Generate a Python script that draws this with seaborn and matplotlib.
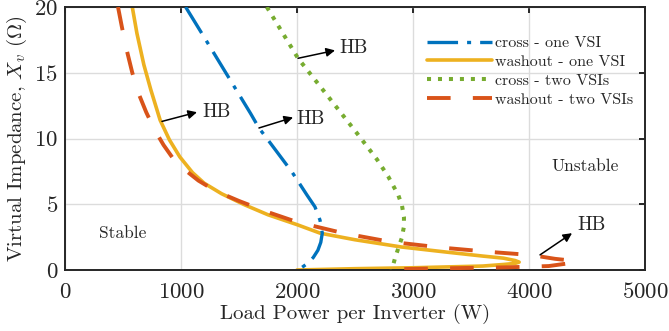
import matplotlib
matplotlib.use("Agg")
import matplotlib.pyplot as plt
import seaborn as sns
import pandas as pd

# ---------------- data ----------------
cross_one_x = [1040, 1200, 1400, 1600, 1672, 1800, 1957, 2086, 2155, 2198, 2218, 2205, 2180, 2140, 2090, 2040, 2000]
cross_one_y = [20.0, 17.7, 14.8, 11.9, 10.8, 9.3, 7.45, 5.7, 4.8, 3.8, 2.8, 2.1, 1.5, 0.95, 0.5, 0.18, 0.0]

wash_one_x = [580, 620, 680, 740, 820, 900, 990, 1100, 1200, 1350, 1550, 1750, 2000, 2200, 2500,
              2900, 3300, 3600, 3780, 3880, 3915, 3880, 3780, 3600, 3000, 2500, 2000]
wash_one_y = [20.0, 18.0, 15.6, 13.7, 11.4, 9.9, 8.6, 7.4, 6.6, 5.8, 4.95, 4.2, 3.45, 2.8, 2.3,
              1.75, 1.35, 1.06, 0.9, 0.72, 0.6, 0.5, 0.42, 0.3, 0.17, 0.1, 0.0]

cross_two_x = [1740, 2009, 2241, 2517, 2690, 2787, 2873, 2905, 2922, 2922, 2902, 2873, 2845, 2825, 2815]
cross_two_y = [20.0, 16.1, 13.5, 10.4, 8.4, 7.1, 5.7, 4.9, 4.05, 3.3, 2.4, 1.65, 0.9, 0.25, 0.0]

wash_two_x = [457, 490, 530, 580, 640, 700, 770, 850, 930, 1050, 1150, 1300, 1500, 1750, 2000, 2400,
              2800, 3250, 3700, 4017, 4224, 4330, 4400, 4336, 4170, 3800, 3350, 2900, 2810]
wash_two_y = [20.0, 18.5, 16.8, 15.0, 13.3, 12.0, 10.7, 9.5, 8.5, 7.5, 6.8, 6.0, 5.25, 4.4, 3.65, 2.8,
              2.15, 1.7, 1.35, 1.14, 0.85, 0.75, 0.65, 0.5, 0.3, 0.2, 0.14, 0.07, 0.0]

labels = ["cross - one VSI", "washout - one VSI", "cross - two VSIs", "washout - two VSIs"]
colors = ["#0072BD", "#EDB120", "#77AC30", "#D95319"]

# HB annotations: (tail x, tail y, head x, head y, text x, text y)
hb_tail_x = [836, 1672, 2009, 4095]
hb_tail_y = [11.3, 10.8, 16.1, 1.15]
hb_head_x = [1138, 1966, 2328, 4371]
hb_head_y = [12.0, 11.6, 16.7, 2.8]
hb_text_x = [1180, 1995, 2365, 4420]
hb_text_y = [12.0, 11.5, 16.85, 3.4]

x_ticks = [0, 1000, 2000, 3000, 4000, 5000]
y_ticks = [0, 5, 10, 15, 20]

# ---------------- style ----------------
sns.set_style("white")
plt.rcParams["font.family"] = ["serif"]
plt.rcParams["font.serif"] = ["cmr10", "DejaVu Serif"]
plt.rcParams["mathtext.fontset"] = "cm"
plt.rcParams["axes.formatter.use_mathtext"] = True
plt.rcParams["lines.scale_dashes"] = False

fig = plt.figure(figsize=(6.69, 3.31), dpi=100)
ax = fig.add_axes([65 / 669, 1 - 270 / 331, 580 / 669, 263 / 331])

series = [
    (cross_one_x, cross_one_y, (0, (22, 6.5, 2.9, 6.5)), 2.4, 3),
    (wash_one_x, wash_one_y, "-", 2.6, 2),
    (cross_two_x, cross_two_y, (0, (2.9, 5.0)), 2.9, 3),
    (wash_two_x, wash_two_y, (0, (17, 16)), 2.8, 4),
]
for (xs, ys, ls, lw, z), lab, col in zip(series, labels, colors):
    df = pd.DataFrame({"x": xs, "y": ys})
    sns.lineplot(data=df, x="x", y="y", sort=False, estimator=None, ax=ax,
                 color=col, linewidth=lw, label=lab, zorder=z)
    line = ax.lines[-1]
    line.set_linestyle(ls)
    line.set_dash_capstyle("butt")
    line.set_solid_capstyle("round")

for tx, ty, hx, hy, lx, ly in zip(hb_tail_x, hb_tail_y, hb_head_x, hb_head_y, hb_text_x, hb_text_y):
    ax.annotate("", xy=(hx, hy), xytext=(tx, ty),
                arrowprops=dict(arrowstyle="-|>", color="black", lw=1.1,
                                mutation_scale=13, shrinkA=0, shrinkB=0), zorder=6)
    ax.text(lx, ly, "HB", fontsize=14, va="center", ha="left", color="#262626", zorder=6)

ax.text(500, 2.8, "Stable", fontsize=12.5, ha="center", va="center", color="#262626")
ax.text(4483, 7.9, "Unstable", fontsize=12.5, ha="center", va="center", color="#262626")

ax.set_xlim(0, 5000)
ax.set_ylim(0, 20)
ax.set_xticks(x_ticks)
ax.set_yticks(y_ticks)
ax.grid(True, color="#dcdcdc", linewidth=1.0)
ax.set_axisbelow(True)
for s in ax.spines.values():
    s.set_visible(True)
    s.set_color("#262626")
    s.set_linewidth(1.4)
ax.tick_params(axis="both", which="both", direction="in", length=4.3, width=1.4,
               top=True, right=True, labelsize=16.5, colors="#262626")
ax.tick_params(axis="x", pad=9)
ax.tick_params(axis="y", pad=5)
ax.set_xlabel("Load Power per Inverter (W)", fontsize=15, color="#262626", labelpad=1)
ax.set_ylabel(r"Virtual Impedance, $X_v$ $(\Omega)$", fontsize=15, color="#262626", labelpad=4)

leg = ax.legend(loc="upper left", bbox_to_anchor=(0.624, 0.89), frameon=False,
                fontsize=11.5, handlelength=4.1, handletextpad=0.15,
                borderpad=0, borderaxespad=0, labelspacing=0.3)
for t in leg.get_texts():
    t.set_color("#262626")

fig.savefig("out.png", dpi=100)
